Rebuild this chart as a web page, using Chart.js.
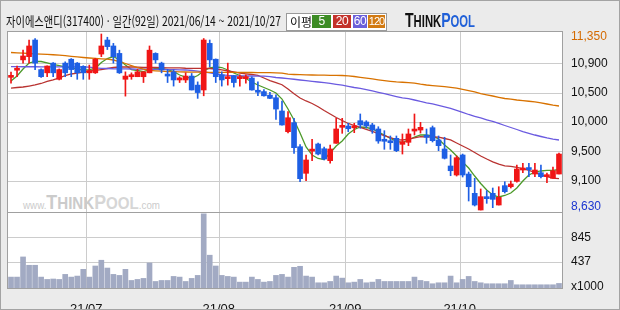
<!DOCTYPE html>
<html lang="ko">
<head>
<meta charset="utf-8">
<title>자이에스앤디 일간 차트</title>
<script src="https://cdn.jsdelivr.net/npm/chart.js"></script>
<style>
html,body{margin:0;padding:0;background:#ebebeb;}
#wrap{position:relative;width:620px;height:310px;overflow:hidden;background:#ebebeb;}
#plotbg{position:absolute;left:7px;top:31px;width:555px;height:257px;background:#ffffff;}
#c{position:absolute;left:0;top:0;}
#frame{position:absolute;left:0;top:0;width:620px;height:310px;box-sizing:border-box;border:1px solid #a3a3a3;pointer-events:none;}
.abs{position:absolute;white-space:nowrap;}
#title{left:6px;top:13px;font-family:'Noto Sans CJK KR';font-size:13px;line-height:16px;color:#111;transform-origin:0 0;}
#legend{left:286px;top:13px;width:101px;height:18px;box-sizing:border-box;border:1px solid #9a9a9a;background:#fff;}
#legend .lbl{position:absolute;left:3px;top:0;font-family:'Noto Sans CJK KR';font-size:12px;line-height:16px;color:#111;}
#legend .bx{position:absolute;top:1px;height:13px;color:#fff;font-size:12px;line-height:13px;text-align:center;font-family:'Liberation Sans';letter-spacing:-0.5px;}
#logo{left:405px;top:11px;font-family:'Liberation Sans';font-weight:bold;transform-origin:0 0;line-height:19px;}
#wm{left:23px;top:193px;font-family:'Liberation Sans';font-weight:bold;color:#cbcbcb;transform-origin:0 0;line-height:18px;}
</style>
</head>
<body>
<div id="wrap">
  <div id="plotbg"></div>
  <div id="wm" class="abs"><span style="font-size:11px;font-weight:normal">www.</span><span style="font-size:20px">T</span><span style="font-size:17px">HINK</span><span style="font-size:20px;color:#d6d6d6">P</span><span style="font-size:17px;color:#d6d6d6">OOL</span><span style="font-size:11px;font-weight:normal">.com</span></div>
  <canvas id="c" width="620" height="310"></canvas>
  <div id="title" class="abs">자이에스앤디(317400) · 일간(92일) 2021/06/14 ~ 2021/10/27</div>
  <div id="legend" class="abs">
    <span class="lbl">이평</span>
    <span class="bx" style="left:25px;width:19px;background:#3d8c25;">5</span>
    <span class="bx" style="left:46px;width:18px;background:#c3322b;">20</span>
    <span class="bx" style="left:66px;width:14px;background:#6b5fd9;">60</span>
    <span class="bx" style="left:81px;width:17px;background:#d27a12;font-size:11px;letter-spacing:-1px;">120</span>
  </div>
  <div id="logo" class="abs"><span style="font-size:20px;color:#111">T</span><span style="font-size:16px;color:#111">HINK</span><span style="font-size:20px;color:#2060d8">P</span><span style="font-size:16px;color:#2060d8">OOL</span></div>
  <div id="frame"></div>
</div>
<script>
// ---------- DATA ----------
const dates = [
 '21/06/14','21/06/15','21/06/16','21/06/17','21/06/18','21/06/21','21/06/22','21/06/23','21/06/24','21/06/25','21/06/28','21/06/29','21/06/30',
 '21/07/01','21/07/02','21/07/05','21/07/06','21/07/07','21/07/08','21/07/09','21/07/12','21/07/13','21/07/14','21/07/15','21/07/16','21/07/19','21/07/20','21/07/21','21/07/22','21/07/23','21/07/26','21/07/27','21/07/28','21/07/29','21/07/30',
 '21/08/02','21/08/03','21/08/04','21/08/05','21/08/06','21/08/09','21/08/10','21/08/11','21/08/12','21/08/13','21/08/17','21/08/18','21/08/19','21/08/20','21/08/23','21/08/24','21/08/25','21/08/26','21/08/27','21/08/30','21/08/31',
 '21/09/01','21/09/02','21/09/03','21/09/06','21/09/07','21/09/08','21/09/09','21/09/10','21/09/13','21/09/14','21/09/15','21/09/16','21/09/17','21/09/23','21/09/24','21/09/27','21/09/28','21/09/29','21/09/30',
 '21/10/01','21/10/05','21/10/06','21/10/07','21/10/08','21/10/12','21/10/13','21/10/14','21/10/15','21/10/18','21/10/19','21/10/20','21/10/21','21/10/22','21/10/25','21/10/26','21/10/27'
];
const open = [
 10680,10790,10950,11000,11257,10800,10750,10900,10650,10900,
 10960,10900,10850,10750,10750,11040,11257,11165,11050,10650,
 10690,10690,10690,10750,11050,10900,10710,10765,10640,10640,
 10700,10560,10485,11205,10960,10720,10660,10705,10660,10660,
 10670,10455,10460,10405,10365,10160,9840,9980,9608,9197,
 9540,9650,9577,9392,9661,9908,9928,9900,10010,9990,
 9944,9882,9723,9701,9738,9645,9676,9850,9866,9760,
 9902,9712,9573,9310,9171,9480,9186,8888,8630,8836,
 8888,8707,9006,8990,9072,9248,9262,9186,9206,9145,
 9120,9186];
const close = [
 10700,10810,11010,11165,10900,10690,10855,10750,10800,10750,
 10800,10750,10750,10785,10960,11165,11155,11000,10750,10700,
 10700,10765,10765,11100,10950,10795,10700,10640,10650,10700,
 10485,10445,11257,10950,10690,10640,10670,10600,10670,10670,
 10485,10450,10395,10355,10190,9944,10056,9593,9114,9403,
 9547,9495,9418,9573,9882,9917,9886,9910,9944,9928,
 9866,9696,9692,9670,9547,9686,9805,9866,9908,9754,
 9701,9624,9429,9237,9438,9171,8990,8707,8836,8805,
 8795,8826,8913,9032,9263,9259,9255,9248,9145,9171,
 9237,9495];
const high = [
 10760,10855,11100,11257,11280,10810,10860,10910,10810,10920,
 10970,10910,10860,10870,10975,11350,11300,11205,11100,10765,
 10750,10805,10770,11165,11060,10915,10805,10795,10690,10750,
 10740,10610,11280,11257,10965,10765,10900,10710,10720,10720,
 10690,10610,10490,10450,10410,10315,10150,10047,9640,9480,
 9723,9666,9604,9635,10047,10047,9970,9970,10114,10010,
 9970,9917,9856,9774,9774,9805,9882,10114,9985,9882,
 9928,9774,9754,9480,9465,9495,9217,9120,8955,8929,
 8970,8990,9067,9078,9325,9351,9351,9351,9325,9202,
 9295,9511];
const low = [
 10590,10690,10900,10900,10800,10680,10690,10690,10640,10690,
 10690,10650,10650,10650,10740,11000,11110,10900,10740,10390,
 10650,10690,10600,10750,10900,10750,10600,10545,10600,10600,
 10485,10355,10395,10845,10600,10545,10560,10530,10545,10590,
 10480,10395,10390,10350,10030,9940,9820,9506,9067,9083,
 9392,9480,9403,9352,9661,9815,9840,9825,9893,9897,
 9815,9661,9568,9568,9531,9495,9624,9789,9820,9661,
 9681,9547,9418,9160,9155,9140,8769,8692,8630,8733,
 8666,8707,8893,8970,9062,9206,9145,9145,9125,9052,
 9120,9186];
const volume = [ // x1000 shares
 182,182,518,379,379,182,143,150,143,227,
 182,199,311,182,367,463,333,227,210,311,
 126,143,160,418,109,126,126,193,182,109,
 160,210,1237,547,367,210,193,182,98,98,
 182,143,98,109,210,227,182,345,362,199,
 182,87,87,109,199,165,87,98,143,87,
 98,143,109,109,109,109,109,182,126,109,
 71,87,87,199,87,143,193,109,87,71,
 71,71,71,126,54,54,54,54,54,54,
 54,76];
const ma5 = [
 10624,10701,10809,10902,10925,10925,10902,10879,10863,10840,
 10825,10809,10794,10801,10820,10910,10971,11002,10948,10871,
 10801,10786,10770,10801,10820,10817,10801,10770,10716,10685,
 10665,10709,10778,10825,10840,10832,10794,10747,10709,10662,
 10608,10562,10523,10485,10438,10345,10191,10021,9820,9604,
 9480,9426,9410,9511,9619,9696,9805,9874,9913,9905,
 9882,9835,9789,9735,9696,9673,9712,9758,9789,9789,
 9774,9727,9635,9557,9465,9372,9279,9155,9040,8939,
 8862,8831,8854,8893,8970,9078,9171,9217,9233,9241,
 9241,9256];
const ma20 = [
 10515,10523,10531,10546,10562,10585,10616,10642,10673,10706,
 10732,10747,10760,10775,10787,10801,10817,10832,10840,10840,
 10840,10837,10832,10832,10832,10829,10828,10825,10825,10821,
 10820,10820,10820,10817,10809,10794,10778,10763,10747,10735,
 10724,10709,10670,10631,10600,10566,10500,10426,10361,10315,
 10276,10225,10168,10114,10060,10013,9967,9936,9908,9877,
 9846,9812,9781,9750,9719,9712,9727,9746,9763,9761,
 9758,9755,9735,9712,9665,9619,9573,9519,9465,9418,
 9375,9338,9313,9304,9290,9268,9242,9212,9174,9145,
 9121,9115];
const ma60 = [
 10845,10845,10844,10844,10844,10843,10843,10843,10842,10842,
 10842,10841,10840,10837,10828,10820,10817,10813,10812,10810,
 10809,10807,10806,10805,10804,10801,10800,10798,10797,10794,
 10786,10775,10766,10750,10735,10719,10709,10704,10702,10701,
 10701,10700,10699,10690,10678,10670,10661,10651,10639,10628,
 10619,10608,10599,10588,10573,10559,10542,10523,10508,10491,
 10472,10449,10427,10404,10383,10364,10350,10330,10307,10287,
 10271,10248,10225,10199,10168,10137,10106,10078,10052,10024,
 9998,9967,9936,9905,9874,9843,9815,9789,9766,9743,
 9724,9712];
const ma120 = [
 11064,11059,11053,11049,11044,11039,11035,11029,11022,11015,
 11005,10996,10987,10979,10973,10967,10961,10948,10925,10894,
 10863,10832,10806,10789,10781,10775,10770,10767,10764,10763,
 10761,10760,10759,10758,10758,10757,10757,10756,10756,10755,
 10755,10754,10753,10752,10750,10744,10729,10724,10721,10719,
 10716,10715,10713,10712,10710,10709,10704,10693,10681,10667,
 10655,10642,10630,10619,10610,10604,10597,10590,10574,10562,
 10553,10546,10536,10526,10512,10495,10475,10454,10430,10410,
 10392,10372,10353,10342,10330,10321,10311,10302,10287,10268,
 10250,10237];
const priceTickLabels = ['8,630','9,100','9,500','10,000','10,500','10,900','11,350'];
const volTickValues = [437, 845];
const volTickLabels = ['437', '845'];
const volUnitLabel = 'x1000';

// ---------- DERIVED ----------
const UP = '#f01616', DOWN = '#1e5fe4';
const GRID = '#cccccc';
const candleColors = open.map((o, i) => close[i] >= o ? UP : DOWN);
const wicks = low.map((l, i) => [l, high[i]]);
const bodies = open.map((o, i) => [o, close[i]]);
const monthStarts = dates.map((d, i) => (i > 0 && d.slice(3, 5) !== dates[i - 1].slice(3, 5)) ? i : -1).filter(i => i >= 0);

// layout (pixels)
const PAD_LEFT = 8, PAD_TOP = 31, AXIS_W = 58, XAXIS_H = 22;
const PRICE_H = 181, VOL_H = 76, GAP_TOP = 3, GAP_BOT = 2;

const pMin = Math.min(...low), pMax = Math.max(...high);
const perPx = (pMax - pMin) / (PRICE_H - GAP_TOP - GAP_BOT);
const yMax = pMax + GAP_TOP * perPx, yMin = pMin - GAP_BOT * perPx;
const gridStep = (pMax - pMin) / 6;
const priceTickValues = priceTickLabels.map((_, k) => {
  if (k === 0) return pMin + 3 * perPx;
  if (k === 6) return pMax - 3 * perPx;
  return pMin + k * gridStep;
});
const priceGridValues = priceTickValues.slice(1, 6);
const volMax = volTickValues[1] * 1.5;
const volTicksAll = [volMax * 0.022].concat(volTickValues);
const volLabelsAll = [volUnitLabel].concat(volTickLabels);

Chart.defaults.font.family = "'Liberation Sans', Arial, sans-serif";

// grid drawn underneath the already drawn marks
function drawGridBehind(chart) {
  const {ctx, chartArea: a, scales} = chart;
  const x = scales.x, y = scales.y, yv = scales.yv;
  const L = Math.round(a.left), R = Math.round(a.right), T = Math.round(a.top), B = Math.round(a.bottom);
  ctx.save();
  ctx.globalCompositeOperation = 'destination-over';
  ctx.fillStyle = GRID;
  priceGridValues.forEach(v => { ctx.fillRect(L, Math.round(y.getPixelForValue(v)), R - L, 1); });
  volTickValues.forEach(v => { ctx.fillRect(L, Math.round(yv.getPixelForValue(v)), R - L, 1); });
  const half = (x.getPixelForValue(1) - x.getPixelForValue(0)) / 2;
  monthStarts.forEach(i => { ctx.fillRect(Math.round(x.getPixelForValue(i) - half), T, 1, B - T); });
  ctx.restore();
}

const framePlugin = {
  id: 'frame',
  afterDatasetsDraw(chart) { drawGridBehind(chart); },
  afterDraw(chart) {
    const {ctx, chartArea: a} = chart;
    const sep = chart.scales.y.bottom;
    const L = Math.round(a.left) - 1, R = Math.round(a.right), T = Math.round(a.top), B = Math.round(a.bottom);
    ctx.save();
    ctx.fillStyle = '#a0a0a0';
    ctx.fillRect(L, T, R - L + 1, 1);
    ctx.fillRect(L, B, R - L + 1, 1);
    ctx.fillRect(L, T, 1, B - T + 1);
    ctx.fillRect(R, T, 1, B - T + 1);
    ctx.fillRect(L, Math.round(sep), R - L + 1, 1);
    ctx.restore();
  }
};

const lineDs = (label, data, color) => ({
  type: 'line', label, data, borderColor: color, borderWidth: 1.3,
  pointRadius: 0, tension: 0, fill: false, yAxisID: 'y', order: 5
});

new Chart(document.getElementById('c'), {
  type: 'bar',
  data: {
    labels: dates,
    datasets: [
      lineDs('120', ma120, '#d87200'),
      lineDs('60', ma60, '#6b5be0'),
      lineDs('20', ma20, '#b93331'),
      lineDs('5', ma5, '#4c9a2a'),
      {label: 'wick', data: wicks, backgroundColor: candleColors, barThickness: 1, grouped: false, yAxisID: 'y', order: 2},
      {label: 'body', data: bodies, backgroundColor: candleColors, barThickness: 5, minBarLength: 2, grouped: false, yAxisID: 'y', order: 1},
      {label: 'volume', data: volume, backgroundColor: '#a2aac3', barThickness: 5, grouped: false, yAxisID: 'yv', order: 1}
    ]
  },
  options: {
    responsive: false,
    animation: false,
    devicePixelRatio: 1,
    layout: {padding: {left: PAD_LEFT, top: PAD_TOP, right: 0, bottom: 0}},
    plugins: {legend: {display: false}, tooltip: {enabled: false}},
    scales: {
      x: {
        offset: true,
        border: {display: false},
        grid: {display: false, offset: true},
        ticks: {autoSkip: false, maxRotation: 0, minRotation: 0, padding: 6, labelOffset: -3,
                font: {size: 13}, color: '#111',
                callback: (v, i) => monthStarts.includes(i) ? dates[i].slice(0, 5) : ''},
        afterFit: s => { s.height = XAXIS_H; }
      },
      y: {
        position: 'right', stack: 'main', stackWeight: PRICE_H,
        min: yMin, max: yMax,
        border: {display: false},
        grid: {display: false, drawTicks: false},
        afterBuildTicks: s => { s.ticks = priceTickValues.map(v => ({value: v})); },
        ticks: {autoSkip: false, padding: 9, font: {size: 12},
                color: c => c.index === 6 ? '#d46a00' : (c.index === 0 ? '#1a35d0' : '#111'),
                callback: (v, i) => priceTickLabels[i]},
        afterFit: s => { s.width = AXIS_W; }
      },
      yv: {
        position: 'right', stack: 'main', stackWeight: VOL_H,
        min: 0, max: volMax,
        border: {display: false},
        grid: {display: false, drawTicks: false},
        afterBuildTicks: s => { s.ticks = volTicksAll.map(v => ({value: v})); },
        ticks: {autoSkip: false, padding: 9, font: {size: 12}, color: '#111',
                callback: (v, i) => volLabelsAll[i]},
        afterFit: s => { s.width = AXIS_W; }
      }
    }
  },
  plugins: [framePlugin]
});

function fitWidth(id, target) {
  const el = document.getElementById(id);
  el.style.transform = 'none';
  const w = el.getBoundingClientRect().width;
  if (w > 0) el.style.transform = 'scaleX(' + (target / w) + ')';
}
function fitAll() { fitWidth('title', 275); fitWidth('logo', 70); fitWidth('wm', 137); }
fitAll();
if (document.fonts && document.fonts.ready) document.fonts.ready.then(fitAll);
</script>
</body>
</html>
